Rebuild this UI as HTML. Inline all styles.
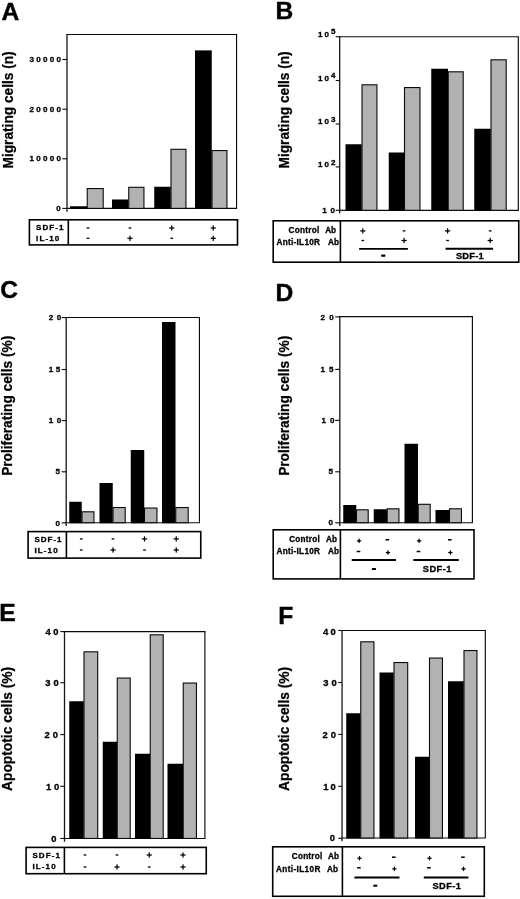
<!DOCTYPE html>
<html><head><meta charset="utf-8"><title>Figure</title>
<style>
html,body{margin:0;padding:0;background:#fff;}
svg{display:block;will-change:transform;font-family:"Liberation Sans",sans-serif;font-weight:bold;fill:#000;}
.s{stroke:#000;stroke-width:.3px;}
.b{stroke:#000;stroke-width:.4px;}
.v{stroke:#000;stroke-width:.25px;}
</style></head><body>
<svg width="520" height="899" viewBox="0 0 520 899">
<rect x="0" y="0" width="520" height="899" fill="#ffffff"/>
<text x="1.50" y="19.60" font-size="24.6" class="b">A</text>
<text transform="translate(13.00,168.46) rotate(-90) scale(0.9127,1)" font-size="15" class="v">Migrating cells (n)</text>
<line x1="66.30" y1="34.50" x2="237.10" y2="34.50" stroke="#0a0a0a" stroke-width="1.15"/>
<line x1="236.55" y1="34.50" x2="236.55" y2="208.40" stroke="#0a0a0a" stroke-width="1.15"/>
<line x1="66.30" y1="208.40" x2="237.10" y2="208.40" stroke="#0a0a0a" stroke-width="1.15"/>
<line x1="67.00" y1="33.95" x2="67.00" y2="211.70" stroke="#161616" stroke-width="1.3"/>
<line x1="62.40" y1="59.50" x2="67.00" y2="59.50" stroke="#0a0a0a" stroke-width="1.1"/>
<line x1="62.40" y1="109.20" x2="67.00" y2="109.20" stroke="#0a0a0a" stroke-width="1.1"/>
<line x1="62.40" y1="158.80" x2="67.00" y2="158.80" stroke="#0a0a0a" stroke-width="1.1"/>
<line x1="62.40" y1="208.40" x2="67.00" y2="208.40" stroke="#0a0a0a" stroke-width="1.1"/>
<text x="29.50" y="62.10" font-size="8.05" textLength="31.50" lengthAdjust="spacing" class="s">30000</text>
<text x="29.50" y="111.80" font-size="8.05" textLength="31.50" lengthAdjust="spacing" class="s">20000</text>
<text x="29.50" y="161.40" font-size="8.05" textLength="31.50" lengthAdjust="spacing" class="s">10000</text>
<text x="56.30" y="211.00" font-size="8.05" class="s">0</text>
<rect x="70.00" y="206.25" width="17.00" height="2.70" fill="#000"/>
<rect x="87.25" y="188.55" width="15.95" height="19.85" fill="#b2b2b2" stroke="#0a0a0a" stroke-width="1.1"/>
<rect x="112.00" y="199.50" width="16.50" height="9.45" fill="#000"/>
<rect x="128.75" y="187.30" width="15.20" height="21.10" fill="#b2b2b2" stroke="#0a0a0a" stroke-width="1.1"/>
<rect x="154.25" y="186.75" width="16.50" height="22.20" fill="#000"/>
<rect x="171.00" y="149.30" width="14.95" height="59.10" fill="#b2b2b2" stroke="#0a0a0a" stroke-width="1.1"/>
<rect x="195.00" y="50.40" width="16.75" height="158.55" fill="#000"/>
<rect x="212.00" y="150.55" width="14.95" height="57.85" fill="#b2b2b2" stroke="#0a0a0a" stroke-width="1.1"/>
<rect x="29.40" y="219.80" width="208.10" height="25.10" fill="none" stroke="#000" stroke-width="1.6"/>
<line x1="68.30" y1="219.80" x2="68.30" y2="244.90" stroke="#000" stroke-width="1.6"/>
<text x="36.10" y="230.40" font-size="8.05" textLength="27.40" lengthAdjust="spacing" class="s">SDF-1</text>
<text x="36.10" y="241.20" font-size="8.05" textLength="23.10" lengthAdjust="spacing" class="s">IL-10</text>
<rect x="86.65" y="227.35" width="2.70" height="1.30" fill="#000"/>
<rect x="86.65" y="237.65" width="2.70" height="1.30" fill="#000"/>
<rect x="128.65" y="227.35" width="2.70" height="1.30" fill="#000"/>
<rect x="127.40" y="237.68" width="5.20" height="1.25" fill="#000"/>
<rect x="129.38" y="235.70" width="1.25" height="5.20" fill="#000"/>
<rect x="169.15" y="227.38" width="5.20" height="1.25" fill="#000"/>
<rect x="171.12" y="225.40" width="1.25" height="5.20" fill="#000"/>
<rect x="170.40" y="237.65" width="2.70" height="1.30" fill="#000"/>
<rect x="210.65" y="227.38" width="5.20" height="1.25" fill="#000"/>
<rect x="212.62" y="225.40" width="1.25" height="5.20" fill="#000"/>
<rect x="210.65" y="237.68" width="5.20" height="1.25" fill="#000"/>
<rect x="212.62" y="235.70" width="1.25" height="5.20" fill="#000"/>
<text x="275.60" y="18.90" font-size="24.6" class="b">B</text>
<text transform="translate(288.50,168.46) rotate(-90) scale(0.9127,1)" font-size="15" class="v">Migrating cells (n)</text>
<line x1="339.00" y1="36.70" x2="518.85" y2="36.70" stroke="#0a0a0a" stroke-width="1.15"/>
<line x1="518.30" y1="36.70" x2="518.30" y2="210.30" stroke="#0a0a0a" stroke-width="1.15"/>
<line x1="339.00" y1="210.30" x2="518.85" y2="210.30" stroke="#0a0a0a" stroke-width="1.15"/>
<line x1="339.70" y1="36.15" x2="339.70" y2="213.60" stroke="#161616" stroke-width="1.3"/>
<line x1="335.70" y1="36.70" x2="339.70" y2="36.70" stroke="#0a0a0a" stroke-width="1.1"/>
<line x1="335.70" y1="80.50" x2="339.70" y2="80.50" stroke="#0a0a0a" stroke-width="1.1"/>
<line x1="335.70" y1="124.00" x2="339.70" y2="124.00" stroke="#0a0a0a" stroke-width="1.1"/>
<line x1="335.70" y1="166.90" x2="339.70" y2="166.90" stroke="#0a0a0a" stroke-width="1.1"/>
<line x1="335.70" y1="210.30" x2="339.70" y2="210.30" stroke="#0a0a0a" stroke-width="1.1"/>
<text x="318.00" y="36.90" font-size="8.05" textLength="10.90" lengthAdjust="spacing" class="s">10</text>
<text x="331.00" y="34.30" font-size="8.05" class="s">5</text>
<text x="318.00" y="80.60" font-size="8.05" textLength="10.90" lengthAdjust="spacing" class="s">10</text>
<text x="331.00" y="78.00" font-size="8.05" class="s">4</text>
<text x="318.00" y="124.10" font-size="8.05" textLength="10.90" lengthAdjust="spacing" class="s">10</text>
<text x="331.00" y="121.50" font-size="8.05" class="s">3</text>
<text x="318.00" y="167.10" font-size="8.05" textLength="10.90" lengthAdjust="spacing" class="s">10</text>
<text x="331.00" y="164.50" font-size="8.05" class="s">2</text>
<text x="322.20" y="212.50" font-size="8.05" class="s">1</text>
<text x="330.40" y="212.50" font-size="8.05" class="s">0</text>
<rect x="345.50" y="144.25" width="16.25" height="66.60" fill="#000"/>
<rect x="362.00" y="84.80" width="14.95" height="125.50" fill="#b2b2b2" stroke="#0a0a0a" stroke-width="1.1"/>
<rect x="388.75" y="152.50" width="15.50" height="58.35" fill="#000"/>
<rect x="404.50" y="87.55" width="15.45" height="122.75" fill="#b2b2b2" stroke="#0a0a0a" stroke-width="1.1"/>
<rect x="431.25" y="68.75" width="16.75" height="142.10" fill="#000"/>
<rect x="448.25" y="71.80" width="14.95" height="138.50" fill="#b2b2b2" stroke="#0a0a0a" stroke-width="1.1"/>
<rect x="474.25" y="128.75" width="16.50" height="82.10" fill="#000"/>
<rect x="491.00" y="59.80" width="15.20" height="150.50" fill="#b2b2b2" stroke="#0a0a0a" stroke-width="1.1"/>
<rect x="273.20" y="220.80" width="245.55" height="41.40" fill="none" stroke="#000" stroke-width="1.6"/>
<line x1="340.40" y1="220.80" x2="340.40" y2="262.20" stroke="#000" stroke-width="1.6"/>
<text x="288.50" y="233.40" font-size="8.2" textLength="30.70" lengthAdjust="spacing" class="s">Control</text>
<text x="325.20" y="233.40" font-size="8.2" class="s">Ab</text>
<text x="276.50" y="244.50" font-size="8.2" textLength="43.50" lengthAdjust="spacing" class="s">Anti-IL10R</text>
<text x="328.00" y="244.50" font-size="8.2" class="s">Ab</text>
<rect x="360.20" y="230.28" width="5.20" height="1.25" fill="#000"/>
<rect x="362.18" y="228.30" width="1.25" height="5.20" fill="#000"/>
<rect x="361.45" y="239.85" width="2.70" height="1.30" fill="#000"/>
<rect x="402.75" y="230.25" width="2.70" height="1.30" fill="#000"/>
<rect x="401.50" y="239.88" width="5.20" height="1.25" fill="#000"/>
<rect x="403.48" y="237.90" width="1.25" height="5.20" fill="#000"/>
<rect x="445.00" y="230.28" width="5.20" height="1.25" fill="#000"/>
<rect x="446.98" y="228.30" width="1.25" height="5.20" fill="#000"/>
<rect x="446.25" y="239.85" width="2.70" height="1.30" fill="#000"/>
<rect x="488.85" y="230.25" width="2.70" height="1.30" fill="#000"/>
<rect x="487.60" y="239.88" width="5.20" height="1.25" fill="#000"/>
<rect x="489.57" y="237.90" width="1.25" height="5.20" fill="#000"/>
<line x1="359.15" y1="248.85" x2="407.90" y2="248.85" stroke="#000" stroke-width="1.9"/>
<line x1="445.50" y1="248.70" x2="493.10" y2="248.70" stroke="#000" stroke-width="1.9"/>
<rect x="381.20" y="254.55" width="4.10" height="2.20" fill="#000"/>
<text x="455.90" y="259.00" font-size="9.3" textLength="27.80" lengthAdjust="spacing" class="s">SDF-1</text>
<text x="0.30" y="297.60" font-size="24.6" class="b">C</text>
<text transform="translate(12.10,475.86) rotate(-90) scale(0.9137,1)" font-size="15" class="v">Proliferating cells (%)</text>
<line x1="65.50" y1="317.50" x2="200.00" y2="317.50" stroke="#0a0a0a" stroke-width="1.15"/>
<line x1="199.45" y1="317.50" x2="199.45" y2="522.70" stroke="#0a0a0a" stroke-width="1.15"/>
<line x1="65.50" y1="522.70" x2="200.00" y2="522.70" stroke="#0a0a0a" stroke-width="1.15"/>
<line x1="66.20" y1="316.95" x2="66.20" y2="526.00" stroke="#161616" stroke-width="1.3"/>
<line x1="61.65" y1="317.60" x2="66.25" y2="317.60" stroke="#0a0a0a" stroke-width="1.1"/>
<line x1="61.65" y1="369.50" x2="66.25" y2="369.50" stroke="#0a0a0a" stroke-width="1.1"/>
<line x1="61.65" y1="420.60" x2="66.25" y2="420.60" stroke="#0a0a0a" stroke-width="1.1"/>
<line x1="61.65" y1="471.80" x2="66.25" y2="471.80" stroke="#0a0a0a" stroke-width="1.1"/>
<line x1="61.65" y1="522.90" x2="66.25" y2="522.90" stroke="#0a0a0a" stroke-width="1.1"/>
<text x="48.75" y="320.20" font-size="8.05" textLength="12.50" lengthAdjust="spacing" class="s">20</text>
<text x="48.75" y="372.10" font-size="8.05" textLength="11.50" lengthAdjust="spacing" class="s">15</text>
<text x="48.75" y="423.20" font-size="8.05" textLength="12.50" lengthAdjust="spacing" class="s">10</text>
<text x="55.50" y="474.40" font-size="8.05" class="s">5</text>
<text x="55.50" y="525.50" font-size="8.05" class="s">0</text>
<rect x="69.25" y="501.75" width="12.50" height="21.50" fill="#000"/>
<rect x="82.00" y="511.80" width="11.95" height="10.90" fill="#b2b2b2" stroke="#0a0a0a" stroke-width="1.1"/>
<rect x="99.50" y="483.00" width="13.25" height="40.25" fill="#000"/>
<rect x="113.00" y="507.55" width="12.20" height="15.15" fill="#b2b2b2" stroke="#0a0a0a" stroke-width="1.1"/>
<rect x="130.75" y="450.00" width="13.50" height="73.25" fill="#000"/>
<rect x="144.50" y="508.05" width="12.45" height="14.65" fill="#b2b2b2" stroke="#0a0a0a" stroke-width="1.1"/>
<rect x="162.00" y="322.00" width="13.50" height="201.25" fill="#000"/>
<rect x="175.75" y="507.55" width="12.45" height="15.15" fill="#b2b2b2" stroke="#0a0a0a" stroke-width="1.1"/>
<rect x="28.10" y="531.60" width="172.65" height="26.50" fill="none" stroke="#000" stroke-width="1.6"/>
<line x1="66.40" y1="531.60" x2="66.40" y2="558.10" stroke="#000" stroke-width="1.6"/>
<text x="34.40" y="542.10" font-size="8.05" textLength="27.20" lengthAdjust="spacing" class="s">SDF-1</text>
<text x="34.40" y="553.30" font-size="8.05" textLength="23.30" lengthAdjust="spacing" class="s">IL-10</text>
<rect x="79.90" y="538.25" width="2.70" height="1.30" fill="#000"/>
<rect x="79.90" y="549.35" width="2.70" height="1.30" fill="#000"/>
<rect x="111.65" y="538.25" width="2.70" height="1.30" fill="#000"/>
<rect x="110.40" y="549.38" width="5.20" height="1.25" fill="#000"/>
<rect x="112.38" y="547.40" width="1.25" height="5.20" fill="#000"/>
<rect x="141.90" y="538.27" width="5.20" height="1.25" fill="#000"/>
<rect x="143.88" y="536.30" width="1.25" height="5.20" fill="#000"/>
<rect x="143.15" y="549.35" width="2.70" height="1.30" fill="#000"/>
<rect x="173.65" y="538.27" width="5.20" height="1.25" fill="#000"/>
<rect x="175.62" y="536.30" width="1.25" height="5.20" fill="#000"/>
<rect x="173.65" y="549.38" width="5.20" height="1.25" fill="#000"/>
<rect x="175.62" y="547.40" width="1.25" height="5.20" fill="#000"/>
<text x="275.60" y="300.60" font-size="24.6" class="b">D</text>
<text transform="translate(288.50,475.86) rotate(-90) scale(0.9137,1)" font-size="15" class="v">Proliferating cells (%)</text>
<line x1="339.10" y1="316.60" x2="472.95" y2="316.60" stroke="#0a0a0a" stroke-width="1.15"/>
<line x1="472.40" y1="316.60" x2="472.40" y2="522.70" stroke="#0a0a0a" stroke-width="1.15"/>
<line x1="339.10" y1="522.70" x2="472.95" y2="522.70" stroke="#0a0a0a" stroke-width="1.15"/>
<line x1="339.80" y1="316.05" x2="339.80" y2="526.00" stroke="#161616" stroke-width="1.3"/>
<line x1="335.20" y1="316.90" x2="339.80" y2="316.90" stroke="#0a0a0a" stroke-width="1.1"/>
<line x1="335.20" y1="369.40" x2="339.80" y2="369.40" stroke="#0a0a0a" stroke-width="1.1"/>
<line x1="335.20" y1="420.40" x2="339.80" y2="420.40" stroke="#0a0a0a" stroke-width="1.1"/>
<line x1="335.20" y1="471.80" x2="339.80" y2="471.80" stroke="#0a0a0a" stroke-width="1.1"/>
<line x1="335.20" y1="522.80" x2="339.80" y2="522.80" stroke="#0a0a0a" stroke-width="1.1"/>
<text x="320.60" y="320.20" font-size="8.05" textLength="13.20" lengthAdjust="spacing" class="s">20</text>
<text x="320.60" y="372.30" font-size="8.05" textLength="13.00" lengthAdjust="spacing" class="s">15</text>
<text x="321.50" y="423.40" font-size="8.05" textLength="13.00" lengthAdjust="spacing" class="s">10</text>
<text x="328.50" y="474.40" font-size="8.05" class="s">5</text>
<text x="328.50" y="525.40" font-size="8.05" class="s">0</text>
<rect x="343.25" y="505.00" width="13.00" height="18.25" fill="#000"/>
<rect x="356.50" y="509.80" width="11.70" height="12.90" fill="#b2b2b2" stroke="#0a0a0a" stroke-width="1.1"/>
<rect x="373.75" y="509.25" width="13.25" height="14.00" fill="#000"/>
<rect x="387.25" y="508.80" width="11.70" height="13.90" fill="#b2b2b2" stroke="#0a0a0a" stroke-width="1.1"/>
<rect x="404.50" y="443.75" width="13.50" height="79.50" fill="#000"/>
<rect x="418.25" y="504.30" width="11.95" height="18.40" fill="#b2b2b2" stroke="#0a0a0a" stroke-width="1.1"/>
<rect x="435.50" y="510.00" width="13.75" height="13.25" fill="#000"/>
<rect x="449.50" y="508.80" width="11.95" height="13.90" fill="#b2b2b2" stroke="#0a0a0a" stroke-width="1.1"/>
<rect x="273.20" y="529.80" width="200.80" height="49.10" fill="none" stroke="#000" stroke-width="1.6"/>
<line x1="340.40" y1="529.80" x2="340.40" y2="578.90" stroke="#000" stroke-width="1.6"/>
<text x="289.20" y="541.90" font-size="8.2" textLength="30.50" lengthAdjust="spacing" class="s">Control</text>
<text x="326.00" y="541.90" font-size="8.2" class="s">Ab</text>
<text x="276.50" y="554.20" font-size="8.2" textLength="43.50" lengthAdjust="spacing" class="s">Anti-IL10R</text>
<text x="328.00" y="554.20" font-size="8.2" class="s">Ab</text>
<rect x="356.95" y="540.22" width="4.30" height="1.25" fill="#000"/>
<rect x="358.48" y="538.70" width="1.25" height="4.30" fill="#000"/>
<rect x="356.70" y="550.75" width="3.60" height="1.50" fill="#000"/>
<rect x="385.50" y="539.05" width="3.60" height="1.50" fill="#000"/>
<rect x="385.75" y="551.92" width="4.30" height="1.25" fill="#000"/>
<rect x="387.28" y="550.40" width="1.25" height="4.30" fill="#000"/>
<rect x="416.95" y="540.22" width="4.30" height="1.25" fill="#000"/>
<rect x="418.48" y="538.70" width="1.25" height="4.30" fill="#000"/>
<rect x="416.70" y="550.75" width="3.60" height="1.50" fill="#000"/>
<rect x="448.00" y="539.05" width="3.60" height="1.50" fill="#000"/>
<rect x="448.25" y="551.92" width="4.30" height="1.25" fill="#000"/>
<rect x="449.78" y="550.40" width="1.25" height="4.30" fill="#000"/>
<line x1="351.70" y1="560.00" x2="395.90" y2="560.00" stroke="#000" stroke-width="2.0"/>
<line x1="413.30" y1="560.00" x2="458.80" y2="560.00" stroke="#000" stroke-width="2.0"/>
<rect x="371.90" y="568.00" width="4.00" height="2.00" fill="#000"/>
<text x="422.80" y="572.40" font-size="9.3" textLength="28.60" lengthAdjust="spacing" class="s">SDF-1</text>
<text x="-0.70" y="620.70" font-size="24.6" class="b">E</text>
<text transform="translate(12.10,791.00) rotate(-90) scale(0.9206,1)" font-size="15" class="v">Apoptotic cells (%)</text>
<line x1="63.80" y1="631.60" x2="205.45" y2="631.60" stroke="#0a0a0a" stroke-width="1.15"/>
<line x1="204.90" y1="631.60" x2="204.90" y2="838.45" stroke="#0a0a0a" stroke-width="1.15"/>
<line x1="63.80" y1="838.45" x2="205.45" y2="838.45" stroke="#0a0a0a" stroke-width="1.15"/>
<line x1="64.50" y1="631.05" x2="64.50" y2="841.75" stroke="#161616" stroke-width="1.3"/>
<line x1="60.30" y1="631.60" x2="64.50" y2="631.60" stroke="#0a0a0a" stroke-width="1.1"/>
<line x1="60.30" y1="682.70" x2="64.50" y2="682.70" stroke="#0a0a0a" stroke-width="1.1"/>
<line x1="60.30" y1="734.60" x2="64.50" y2="734.60" stroke="#0a0a0a" stroke-width="1.1"/>
<line x1="60.30" y1="786.30" x2="64.50" y2="786.30" stroke="#0a0a0a" stroke-width="1.1"/>
<line x1="60.30" y1="838.45" x2="64.50" y2="838.45" stroke="#0a0a0a" stroke-width="1.1"/>
<text class="s" transform="translate(45.42,635.10) scale(1.12,1)" font-size="8.4">4</text>
<text class="s" transform="translate(53.32,635.10) scale(1.12,1)" font-size="8.4">0</text>
<text class="s" transform="translate(45.32,686.20) scale(1.12,1)" font-size="8.4">3</text>
<text class="s" transform="translate(53.52,686.20) scale(1.12,1)" font-size="8.4">0</text>
<text class="s" transform="translate(44.52,738.10) scale(1.12,1)" font-size="8.4">2</text>
<text class="s" transform="translate(52.82,738.10) scale(1.12,1)" font-size="8.4">0</text>
<text class="s" transform="translate(46.09,789.70) scale(1.12,1)" font-size="8.4">1</text>
<text class="s" transform="translate(53.92,789.70) scale(1.12,1)" font-size="8.4">0</text>
<text class="s" transform="translate(51.22,841.65) scale(1.12,1)" font-size="8.4">0</text>
<rect x="69.25" y="701.25" width="14.50" height="137.75" fill="#000"/>
<rect x="84.00" y="651.80" width="13.70" height="186.65" fill="#b2b2b2" stroke="#0a0a0a" stroke-width="1.1"/>
<rect x="102.75" y="741.75" width="14.25" height="97.25" fill="#000"/>
<rect x="117.25" y="678.05" width="12.95" height="160.40" fill="#b2b2b2" stroke="#0a0a0a" stroke-width="1.1"/>
<rect x="135.00" y="753.75" width="15.00" height="85.25" fill="#000"/>
<rect x="150.25" y="634.80" width="12.95" height="203.65" fill="#b2b2b2" stroke="#0a0a0a" stroke-width="1.1"/>
<rect x="167.50" y="763.75" width="15.50" height="75.25" fill="#000"/>
<rect x="183.25" y="683.05" width="13.20" height="155.40" fill="#b2b2b2" stroke="#0a0a0a" stroke-width="1.1"/>
<rect x="26.10" y="847.40" width="180.15" height="26.30" fill="none" stroke="#000" stroke-width="1.6"/>
<line x1="64.40" y1="847.40" x2="64.40" y2="873.70" stroke="#000" stroke-width="1.6"/>
<text x="32.40" y="857.90" font-size="8.05" textLength="27.60" lengthAdjust="spacing" class="s">SDF-1</text>
<text x="32.40" y="869.30" font-size="8.05" textLength="23.30" lengthAdjust="spacing" class="s">IL-10</text>
<rect x="83.65" y="854.35" width="2.70" height="1.30" fill="#000"/>
<rect x="83.65" y="866.35" width="2.70" height="1.30" fill="#000"/>
<rect x="115.65" y="854.35" width="2.70" height="1.30" fill="#000"/>
<rect x="114.40" y="866.38" width="5.20" height="1.25" fill="#000"/>
<rect x="116.38" y="864.40" width="1.25" height="5.20" fill="#000"/>
<rect x="146.65" y="854.38" width="5.20" height="1.25" fill="#000"/>
<rect x="148.62" y="852.40" width="1.25" height="5.20" fill="#000"/>
<rect x="147.90" y="866.35" width="2.70" height="1.30" fill="#000"/>
<rect x="180.40" y="854.38" width="5.20" height="1.25" fill="#000"/>
<rect x="182.38" y="852.40" width="1.25" height="5.20" fill="#000"/>
<rect x="180.40" y="866.38" width="5.20" height="1.25" fill="#000"/>
<rect x="182.38" y="864.40" width="1.25" height="5.20" fill="#000"/>
<text x="278.20" y="623.80" font-size="24.6" class="b">F</text>
<text transform="translate(288.50,791.00) rotate(-90) scale(0.9206,1)" font-size="15" class="v">Apoptotic cells (%)</text>
<line x1="341.35" y1="630.45" x2="485.85" y2="630.45" stroke="#0a0a0a" stroke-width="1.15"/>
<line x1="485.30" y1="630.45" x2="485.30" y2="838.00" stroke="#0a0a0a" stroke-width="1.15"/>
<line x1="341.35" y1="838.00" x2="485.85" y2="838.00" stroke="#0a0a0a" stroke-width="1.15"/>
<line x1="342.05" y1="629.90" x2="342.05" y2="841.30" stroke="#161616" stroke-width="1.3"/>
<line x1="338.20" y1="630.50" x2="341.90" y2="630.50" stroke="#0a0a0a" stroke-width="1.1"/>
<line x1="338.20" y1="682.50" x2="341.90" y2="682.50" stroke="#0a0a0a" stroke-width="1.1"/>
<line x1="338.20" y1="734.40" x2="341.90" y2="734.40" stroke="#0a0a0a" stroke-width="1.1"/>
<line x1="338.20" y1="786.30" x2="341.90" y2="786.30" stroke="#0a0a0a" stroke-width="1.1"/>
<line x1="338.20" y1="838.30" x2="341.90" y2="838.30" stroke="#0a0a0a" stroke-width="1.1"/>
<text class="s" transform="translate(322.92,634.50) scale(1.12,1)" font-size="8.4">4</text>
<text class="s" transform="translate(330.52,634.50) scale(1.12,1)" font-size="8.4">0</text>
<text class="s" transform="translate(323.27,686.00) scale(1.12,1)" font-size="8.4">3</text>
<text class="s" transform="translate(331.42,686.00) scale(1.12,1)" font-size="8.4">0</text>
<text class="s" transform="translate(322.52,738.00) scale(1.12,1)" font-size="8.4">2</text>
<text class="s" transform="translate(330.77,738.00) scale(1.12,1)" font-size="8.4">0</text>
<text class="s" transform="translate(323.29,789.70) scale(1.12,1)" font-size="8.4">1</text>
<text class="s" transform="translate(330.52,789.70) scale(1.12,1)" font-size="8.4">0</text>
<text class="s" transform="translate(329.72,840.60) scale(1.12,1)" font-size="8.4">0</text>
<rect x="346.25" y="713.25" width="14.25" height="125.30" fill="#000"/>
<rect x="360.75" y="641.80" width="13.20" height="196.20" fill="#b2b2b2" stroke="#0a0a0a" stroke-width="1.1"/>
<rect x="379.50" y="672.50" width="14.25" height="166.05" fill="#000"/>
<rect x="394.00" y="662.55" width="13.70" height="175.45" fill="#b2b2b2" stroke="#0a0a0a" stroke-width="1.1"/>
<rect x="415.00" y="756.75" width="14.25" height="81.80" fill="#000"/>
<rect x="429.50" y="658.05" width="12.95" height="179.95" fill="#b2b2b2" stroke="#0a0a0a" stroke-width="1.1"/>
<rect x="448.00" y="681.25" width="15.75" height="157.30" fill="#000"/>
<rect x="464.00" y="650.55" width="12.95" height="187.45" fill="#b2b2b2" stroke="#0a0a0a" stroke-width="1.1"/>
<rect x="272.70" y="846.80" width="211.60" height="49.50" fill="none" stroke="#000" stroke-width="1.6"/>
<line x1="342.40" y1="846.80" x2="342.40" y2="896.30" stroke="#000" stroke-width="1.6"/>
<text x="291.80" y="859.20" font-size="8.2" textLength="30.40" lengthAdjust="spacing" class="s">Control</text>
<text x="328.10" y="859.20" font-size="8.2" class="s">Ab</text>
<text x="276.00" y="871.50" font-size="8.2" textLength="44.30" lengthAdjust="spacing" class="s">Anti-IL10R</text>
<text x="327.00" y="871.50" font-size="8.2" class="s">Ab</text>
<rect x="357.35" y="857.62" width="4.30" height="1.25" fill="#000"/>
<rect x="358.88" y="856.10" width="1.25" height="4.30" fill="#000"/>
<rect x="357.10" y="867.05" width="3.60" height="1.50" fill="#000"/>
<rect x="392.00" y="856.45" width="3.60" height="1.50" fill="#000"/>
<rect x="392.25" y="868.22" width="4.30" height="1.25" fill="#000"/>
<rect x="393.78" y="866.70" width="1.25" height="4.30" fill="#000"/>
<rect x="427.35" y="857.62" width="4.30" height="1.25" fill="#000"/>
<rect x="428.88" y="856.10" width="1.25" height="4.30" fill="#000"/>
<rect x="427.10" y="867.05" width="3.60" height="1.50" fill="#000"/>
<rect x="461.10" y="856.45" width="3.60" height="1.50" fill="#000"/>
<rect x="461.35" y="868.22" width="4.30" height="1.25" fill="#000"/>
<rect x="462.88" y="866.70" width="1.25" height="4.30" fill="#000"/>
<line x1="354.40" y1="877.60" x2="399.50" y2="877.60" stroke="#000" stroke-width="2.0"/>
<line x1="423.75" y1="877.60" x2="468.40" y2="877.60" stroke="#000" stroke-width="2.0"/>
<rect x="373.30" y="884.70" width="4.00" height="2.00" fill="#000"/>
<text x="432.50" y="889.30" font-size="9.3" textLength="28.50" lengthAdjust="spacing" class="s">SDF-1</text>
</svg>
</body></html>
